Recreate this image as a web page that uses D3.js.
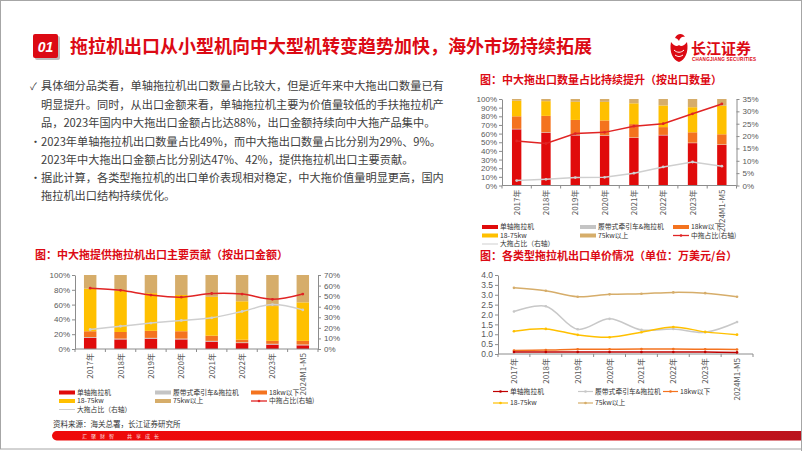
<!DOCTYPE html>
<html><head><meta charset="utf-8">
<script src="https://cdn.jsdelivr.net/npm/d3@7"></script>
<style>
body{margin:0;background:#fff}
svg{display:block}
text{font-family:"Noto Sans CJK SC","Noto Sans",sans-serif}
.num{font-family:"Liberation Sans",Arial,sans-serif}
</style>
</head><body><svg id="c" width="802" height="451"></svg>
<script>
// ---------------- DATA ----------------
const categories = ["2017年","2018年","2019年","2020年","2021年","2022年","2023年","2024M1-M5"];
const seriesNames = ["单轴拖拉机","履带式牵引车&拖拉机","18kw以下","18-75kw","75kw以上"];
const midShareName = "中拖占比(右轴)";
const largeShareName = "大拖占比（右轴）";

// 按出口数量 (%)
const qtySingle  = [65, 61, 58, 57.5, 55, 58, 49, 47];
const qtyCrawler = [0.5, 0.5, 0.5, 0.5, 0.5, 0.5, 0.5, 0.5];
const qtyUnder18 = [14.5, 19, 17.3, 17.2, 15.5, 9, 12, 11.7];
const qty18to75  = [18, 17, 21, 21.5, 24, 25, 29, 33];
const qtyOver75  = [2, 2.5, 3.2, 3.3, 5, 7.5, 9.5, 7.8];
const qtyMidShare   = [18, 17, 21, 21.5, 24, 25, 29, 33];
const qtyLargeShare = [2, 2.5, 3.2, 3.3, 5, 7.5, 9.5, 7.8];

// 按出口金额 (%)
const amtSingle  = [15, 13, 14, 13, 10, 8, 6, 5];
const amtCrawler = [1, 1, 1, 1, 1, 1, 1, 1];
const amtUnder18 = [8, 9, 9.5, 10, 7, 3.5, 4, 5];
const amt18to75  = [57.5, 55.5, 51, 49, 52.5, 52, 47, 52];
const amtOver75  = [18.5, 21.5, 24.5, 27, 29.5, 35.5, 42, 37];
const amtMidShare   = [57.5, 55.5, 51, 49, 52.5, 52, 47, 52];
const amtLargeShare = [18.5, 21.5, 24.5, 27, 29.5, 35.5, 42, 37];

// 出口单价 (万美元/台)
const priceSingle  = [0.10, 0.10, 0.10, 0.10, 0.10, 0.10, 0.10, 0.08];
const priceCrawler = [2.15, 2.42, 1.25, 1.78, 1.22, 1.27, 1.10, 1.62];
const priceUnder18 = [0.18, 0.20, 0.24, 0.24, 0.25, 0.25, 0.24, 0.23];
const price18to75  = [1.15, 1.27, 0.97, 0.85, 1.10, 1.37, 1.12, 0.98];
const priceOver75  = [3.35, 3.20, 2.90, 3.02, 3.05, 3.12, 3.08, 2.90];

const leftPctTicksQty = [0,10,20,30,40,50,60,70,80,90,100];
const rightPctTicksQty = [0,5,10,15,20,25,30,35];
const leftPctTicksAmt = [0,20,40,60,80,100];
const rightPctTicksAmt = [0,10,20,30,40,50,60,70];
const priceTicks = [0,0.5,1,1.5,2,2.5,3,3.5,4];

const headerTitle = "拖拉机出口从小型机向中大型机转变趋势加快，海外市场持续拓展";
const bodyLines = [
  {m:"✓", t:"具体细分品类看，单轴拖拉机出口数量占比较大，但是近年来中大拖出口数量已有"},
  {m:"",  t:"明显提升。同时，从出口金额来看，单轴拖拉机主要为价值量较低的手扶拖拉机产"},
  {m:"",  t:"品，2023年国内中大拖出口金额占比达88%，出口金额持续向中大拖产品集中。"},
  {m:"•", t:"2023年单轴拖拉机出口数量占比49%，而中大拖出口数量占比分别为29%、9%。"},
  {m:"",  t:"2023年中大拖出口金额占比分别达47%、42%，提供拖拉机出口主要贡献。"},
  {m:"•", t:"据此计算，各类型拖拉机的出口单价表现相对稳定，中大拖价值量明显更高，国内"},
  {m:"",  t:"拖拉机出口结构持续优化。"}
];
const titleQty = "图：中大拖出口数量占比持续提升（按出口数量）";
const titleAmt = "图：中大拖提供拖拉机出口主要贡献（按出口金额）";
const titlePrice = "图：各类型拖拉机出口单价情况（单位：万美元/台）";
const sourceText = "资料来源：海关总署，长江证券研究所";
const sloganLeft = "汇聚财智", sloganRight = "共享成长";

// ---------------- STYLE ----------------
const RED = "#DC0A14";
const colors = ["#E00B0B", "#C4C4C4", "#F4731F", "#FFC000", "#D6AD6A"];
const lineColorsPrice = ["#C00000", "#C8C8C8", "#F4731F", "#FFC000", "#D6AD6A"];
const midColor = "#E02424", largeColor = "#CFCFCF";
const axisColor = "#8c8c8c", labelColor = "#595959";

const svg = d3.select("#c");
svg.append("rect").attr("x",0.5).attr("y",0.5).attr("width",801).attr("height",448.5)
  .attr("fill","#fff").attr("stroke","#a6a6a6");

// ---------------- HEADER ----------------
svg.append("rect").attr("x",35).attr("y",36).attr("width",25).attr("height",24).attr("fill","#bdbdbd").attr("rx",2);
svg.append("rect").attr("x",33).attr("y",34).attr("width",25).attr("height",24).attr("fill",RED).attr("rx",2);
svg.append("text").attr("x",45.5).attr("y",51.5).attr("text-anchor","middle")
  .attr("font-size",14).attr("font-weight",700).attr("font-style","italic").attr("fill","#fff")
  .attr("class","num").text("01");
svg.append("text").attr("x",70).attr("y",53).attr("font-size",18).attr("font-weight",700)
  .attr("fill",RED).text(headerTitle);

// logo
const lg = svg.append("g").attr("transform","translate(679,48)");
lg.append("path").attr("d","M-8,-6 C-10,4 -6,12 0,14 C6,12 10,4 8,-6 C5,-2 2,-1 0,-3 C-2,-1 -5,-2 -8,-6Z").attr("fill",RED);
lg.append("path").attr("d","M-4,-10 C-2,-15 4,-15 6,-11 C3,-12 1,-10 0,-7 C-1,-9 -3,-10 -4,-10Z").attr("fill",RED);
lg.append("path").attr("d","M-5,2 C-2,5 2,5 5,2 M-4,7 C-1,9 1,9 4,7").attr("stroke","#fff").attr("stroke-width",1).attr("fill","none");
svg.append("text").attr("x",691).attr("y",54).attr("font-size",15).attr("font-weight",700).attr("fill",RED).text("长江证券");
svg.append("text").attr("x",692).attr("y",61).attr("font-size",4.6).attr("font-weight",700).attr("fill",RED)
  .attr("class","num").attr("textLength",64).text("CHANGJIANG SECURITIES");

// ---------------- BODY TEXT ----------------
const lineYs = [86, 104.5, 123, 141.5, 159.5, 178, 196];
bodyLines.forEach((l,i)=>{
  if(l.m) svg.append("text").attr("x",30).attr("y",lineYs[i]+4).attr("font-size",l.m==="✓"?10:11)
    .attr("fill","#404040").text(l.m);
  svg.append("text").attr("x",41).attr("y",lineYs[i]+4).attr("font-size",11.2).attr("fill","#404040").text(l.t);
});

// ---------------- HELPERS ----------------
function styleAxis(sel, fs){
  sel.select(".domain").attr("stroke",axisColor);
  sel.selectAll(".tick line").attr("stroke",axisColor);
  sel.selectAll(".tick text").attr("fill",labelColor).attr("font-size",fs).attr("class","num");
}
function xAxisBand(g, x, y0, fs){
  const [a,b] = x.range();
  g.append("line").attr("x1",a).attr("x2",b).attr("y1",y0).attr("y2",y0).attr("stroke",axisColor);
  const step = x.step();
  d3.range(categories.length+1).forEach(i=>{
    const xx = a + i*step;
    g.append("line").attr("x1",xx).attr("x2",xx).attr("y1",y0).attr("y2",y0+3).attr("stroke",axisColor);
  });
  categories.forEach(c=>{
    g.append("text").attr("transform",`translate(${x(c)+x.bandwidth()/2+3},${y0+4}) rotate(-90)`)
      .attr("text-anchor","end").attr("font-size",fs).attr("fill",labelColor).text(c);
  });
}

function stackedChart(cfg){
  const g = svg.append("g");
  const x = d3.scaleBand().domain(categories).range([cfg.x0,cfg.x1]).paddingInner(cfg.pad).paddingOuter(cfg.pad/2);
  const y = d3.scaleLinear().domain([0,100]).range([cfg.yBot,cfg.yTop]);
  const yR = d3.scaleLinear().domain([0,cfg.rMax]).range([cfg.yBot,cfg.yTop]);
  const keys = seriesNames;
  const rows = categories.map((c,i)=>{ const o={cat:c}; keys.forEach((k,j)=>o[k]=cfg.stack[j][i]); return o; });
  const layers = d3.stack().keys(keys)(rows);
  layers.forEach((layer,k)=>{
    g.selectAll(null).data(layer).join("rect")
      .attr("x",d=>x(d.data.cat)).attr("width",x.bandwidth())
      .attr("y",d=>y(Math.min(d[1],100))).attr("height",d=>y(d[0])-y(Math.min(d[1],100)))
      .attr("fill",colors[k]);
  });
  const la = g.append("g").attr("transform",`translate(${cfg.x0},0)`)
    .call(d3.axisLeft(y).tickValues(cfg.lTicks).tickFormat(d=>d+"%").tickSize(3).tickPadding(2).tickSizeOuter(0));
  styleAxis(la, 8);
  const ra = g.append("g").attr("transform",`translate(${cfg.x1},0)`)
    .call(d3.axisRight(yR).tickValues(cfg.rTicks).tickFormat(d=>d+"%").tickSize(3).tickPadding(3).tickSizeOuter(0));
  styleAxis(ra, 8);
  xAxisBand(g, x, cfg.yBot, 8);
  const cx = c=>x(c)+x.bandwidth()/2;
  [[cfg.large,largeColor],[cfg.mid,midColor]].forEach(([vals,col])=>{
    const pts = categories.map((c,i)=>[cx(c), yR(vals[i])]);
    g.append("path").attr("d",d3.line().curve(cfg.curve)(pts)).attr("fill","none")
      .attr("stroke",col).attr("stroke-width",1.5);
    g.selectAll(null).data(pts).join("circle").attr("cx",d=>d[0]).attr("cy",d=>d[1]).attr("r",1.4).attr("fill",col);
  });
}

function legend(items, cols, rows, sw){
  items.forEach((it,i)=>{
    const cx = cols[i%3], cy = rows[Math.floor(i/3)];
    if(it.type==="bar"){
      svg.append("rect").attr("x",cx).attr("y",cy-2).attr("width",sw).attr("height",4).attr("fill",it.color);
    } else {
      svg.append("line").attr("x1",cx).attr("x2",cx+sw).attr("y1",cy).attr("y2",cy)
        .attr("stroke",it.color).attr("stroke-width",it.w||1.2);
      if(it.marker) svg.append("circle").attr("cx",cx+sw/2).attr("cy",cy).attr("r",1.3).attr("fill",it.color);
    }
    svg.append("text").attr("x",cx+sw+2).attr("y",cy+2.4).attr("font-size",6.8).attr("fill","#333").text(it.name);
  });
}

// ---------------- CHART 1: quantity ----------------
svg.append("text").attr("x",480).attr("y",84).attr("font-size",11).attr("font-weight",700).attr("fill",RED).text(titleQty);
stackedChart({x0:502,x1:736.5,yTop:99,yBot:185.5,pad:0.68,rMax:35,
  lTicks:leftPctTicksQty,rTicks:rightPctTicksQty,
  stack:[qtySingle,qtyCrawler,qtyUnder18,qty18to75,qtyOver75],
  mid:qtyMidShare,large:qtyLargeShare,curve:d3.curveLinear});
const barLegendItems = seriesNames.map((n,i)=>({name:n,color:colors[i],type:"bar"}))
  .concat([{name:midShareName,color:midColor,type:"line",marker:true,w:1.3},{name:largeShareName,color:largeColor,type:"line",w:1}]);
legend(barLegendItems,[482,580,673],[227,235.5,244],16);

// ---------------- CHART 2: amount ----------------
svg.append("text").attr("x",35).attr("y",259).attr("font-size",11).attr("font-weight",700).attr("fill",RED).text(titleAmt);
stackedChart({x0:75,x1:318,yTop:275,yBot:349,pad:0.59,rMax:70,
  lTicks:leftPctTicksAmt,rTicks:rightPctTicksAmt,
  stack:[amtSingle,amtCrawler,amtUnder18,amt18to75,amtOver75],
  mid:amtMidShare,large:amtLargeShare,curve:d3.curveCatmullRom.alpha(0.5)});
legend(barLegendItems,[59,155,251],[392.5,401,409.5],16);

// ---------------- CHART 3: price ----------------
svg.append("text").attr("x",480).attr("y",260).attr("font-size",11).attr("font-weight",700).attr("fill",RED).text(titlePrice);
(function(){
  const g = svg.append("g");
  const x = d3.scaleBand().domain(categories).range([498,753]).paddingInner(0.6).paddingOuter(0.3);
  const y = d3.scaleLinear().domain([0,4]).range([354,275]);
  const la = g.append("g").attr("transform","translate(498,0)")
    .call(d3.axisLeft(y).tickValues(priceTicks).tickFormat(d3.format(".1f")).tickSize(3).tickPadding(2).tickSizeOuter(0));
  styleAxis(la, 8.5);
  xAxisBand(g, x, 354, 8);
  const cx = c=>x(c)+x.bandwidth()/2;
  const series = [priceOver75, priceCrawler, price18to75, priceUnder18, priceSingle];
  const cols = [lineColorsPrice[4], lineColorsPrice[1], lineColorsPrice[3], lineColorsPrice[2], lineColorsPrice[0]];
  series.forEach((vals,k)=>{
    const pts = categories.map((c,i)=>[cx(c), y(vals[i])]);
    g.append("path").attr("d",d3.line().curve(d3.curveCatmullRom.alpha(0.5))(pts)).attr("fill","none")
      .attr("stroke",cols[k]).attr("stroke-width",1.5);
    g.selectAll(null).data(pts).join("circle").attr("cx",d=>d[0]).attr("cy",d=>d[1]).attr("r",1.3).attr("fill",cols[k]);
  });
  const items = seriesNames.map((n,i)=>({name:n,color:lineColorsPrice[i],type:"line",marker:true,w:1.2}));
  legend(items,[493,578,663],[391.5,403],15);
})();

// ---------------- FOOTER ----------------
svg.append("text").attr("x",53).attr("y",427).attr("font-size",7.5).attr("fill","#333").text(sourceText);
const defs = svg.append("defs");
const gr = defs.append("linearGradient").attr("id","fg").attr("x1","0").attr("x2","1");
gr.append("stop").attr("offset","0").attr("stop-color","#EE0A0A");
gr.append("stop").attr("offset","0.6").attr("stop-color","#E8090F");
gr.append("stop").attr("offset","1").attr("stop-color","#B8141E");
svg.append("rect").attr("x",52).attr("y",431).attr("width",760).attr("height",9.5).attr("rx",4.7).attr("fill","url(#fg)");
svg.append("text").attr("x",82).attr("y",438).attr("font-size",5).attr("letter-spacing",4).attr("fill","#fff").attr("opacity",0.85).text(sloganLeft);
svg.append("text").attr("x",127).attr("y",438).attr("font-size",5).attr("letter-spacing",4).attr("fill","#fff").attr("opacity",0.85).text(sloganRight);
svg.append("rect").attr("x",801).attr("y",0).attr("width",1).attr("height",451).attr("fill","#a6a6a6");
</script>
</body></html>
